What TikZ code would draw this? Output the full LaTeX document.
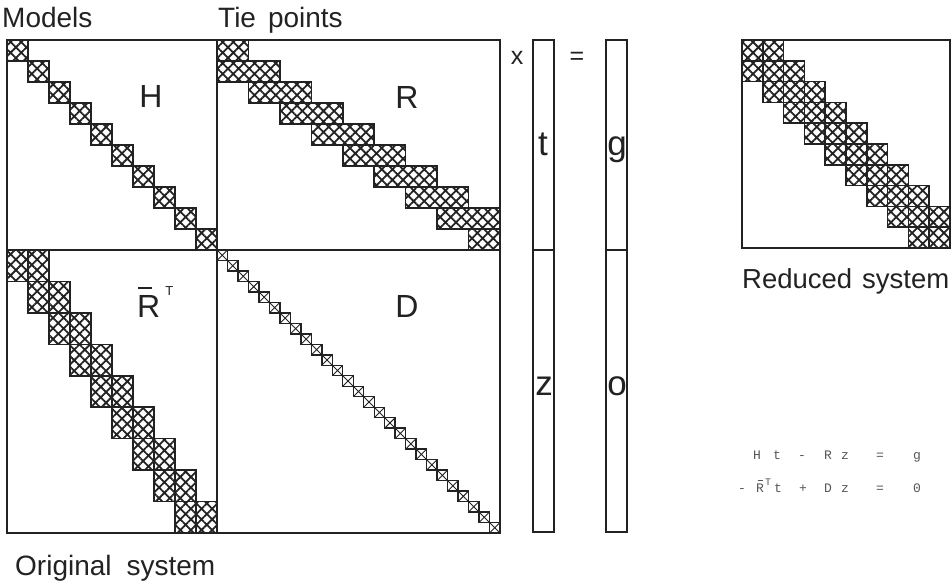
\documentclass[tikz,border=0pt]{standalone}
\usepackage{fontspec}
\setmainfont{Liberation Sans}
\newfontfamily\eqfont{Liberation Mono}
\usetikzlibrary{patterns.meta}
\definecolor{ink}{HTML}{222222}
\definecolor{eqgray}{HTML}{555555}
\newcommand{\barR}[3]{\makebox[0pt][l]{\hspace{#3}\raisebox{#1}{\rule{#2}{0.06em}}}R}
\begin{document}
\begin{tikzpicture}[x=1pt,y=-1pt,line join=miter,
  frame/.style={draw=ink,line width=1.3pt},
  hatchblk/.style={draw=ink,line width=1.5pt,pattern={Hatch[angle=45,distance=7.5pt,line width=1.8pt]},pattern color=ink},
  dblk/.style={draw=ink,line width=1.4pt},
  dcross/.style={draw=ink,line width=0.9pt},
  caption/.style={font=\fontsize{28}{30}\selectfont,text=ink,inner sep=0pt,anchor=base west},
  biglbl/.style={font=\fontsize{32}{34}\selectfont,text=ink,inner sep=0pt,anchor=base},
  veclbl/.style={font=\fontsize{35}{37}\selectfont,text=ink,inner sep=0pt,anchor=base},
  oplbl/.style={font=\fontsize{25}{27}\selectfont,text=ink,inner sep=0pt},
  eqlbl/.style={font=\eqfont\fontsize{13}{14}\selectfont,text=eqgray,inner sep=0pt,anchor=base}]
\useasboundingbox (0,0) rectangle (951,583);

% ---- H blocks
\foreach \i in {0,...,9}
  \draw[hatchblk] ({7+21*\i},{40+21*\i}) rectangle ++(21,21);
% ---- R blocks
\foreach \i in {0,...,9}{
  \pgfmathsetmacro\ca{max(0,\i-1)}
  \pgfmathsetmacro\cb{min(8,\i)+1}
  \draw[hatchblk] ({217+31.444*\ca},{40+21*\i}) rectangle ({217+31.444*\cb},{40+21*(\i+1)});
}
% ---- R-bar-T blocks
\foreach \j in {0,...,8}
  \foreach \c in {0,1}
    \draw[hatchblk] ({7+21*(\j+\c)},{250+31.444*\j}) rectangle ++(21,31.444);
% ---- D blocks
\foreach \k in {0,...,26}{
  \draw[dblk] ({217+10.481*\k},{250+10.481*\k}) rectangle ++(10.481,10.481);
  \draw[dcross] ({217+10.481*\k},{250+10.481*\k}) -- ++(10.481,10.481)
                ({217+10.481*(\k+1)},{250+10.481*\k}) -- ++(-10.481,10.481);
}
% ---- frame of original system
\draw[frame] (7,40) rectangle (500,533);
\draw[frame] (217,40) -- (217,533);
\draw[frame] (7,250) -- (500,250);

% ---- vectors
\draw[frame] (533,40) rectangle (554,532);
\draw[frame] (533,250) -- (554,250);
\draw[frame] (606,40) rectangle (627,532);
\draw[frame] (606,250) -- (627,250);

% ---- reduced system
\foreach \i in {0,...,9}
  \foreach \c in {-1,0,1}{
    \pgfmathtruncatemacro\cc{\i+\c}
    \ifnum\cc>-1 \ifnum\cc<10
      \draw[hatchblk] ({742+20.8*\cc},{40+20.8*\i}) rectangle ++(20.8,20.8);
    \fi\fi
  }
\draw[frame] (742,40) rectangle (950,248);

% ---- labels
\node[caption] (models) at (2,28) {Models};
\node[caption] (tie) at (218,28) {Tie\hspace{12pt}points};
\node[caption] (orig) at (15,575) {Original\hspace{15pt}system};
\node[caption,font=\fontsize{27.5}{29}\selectfont] (red) at (742,288) {Reduced\hspace{10pt}system};

\node[biglbl] (H) at (151,108) {H};
\node[biglbl] (R) at (407,109) {R};
\node[biglbl,anchor=base west] (RT) at (137,317) {\barR{28pt}{14pt}{1pt}\hspace{5pt}\raisebox{22pt}{\fontsize{13}{13}\selectfont T}};
\node[biglbl] (D) at (407,317) {D};

\node[oplbl,anchor=base] (times) at (517,65) {x};
\node[oplbl] (eq) at (577,58) {=};
\node[veclbl] (t) at (543,156) {t};
\node[veclbl] (g) at (617,156) {g};
\node[veclbl] (z) at (544,395) {z};
\node[veclbl] (o) at (617,395) {o};

% ---- equations
\foreach \x/\s [count=\n] in {757/H,777/t,802/-,828/R,845/z,880/=,917/g}
  \node[eqlbl] (ea\n) at (\x,459) {\s};
\foreach \x/\s [count=\n] in {742/-,778/t,803/+,828/D,845/z,880/=,917/0}
  \node[eqlbl] (eb\n) at (\x,492) {\s};
\node[eqlbl,anchor=base west] (ebR) at (756,492) {\barR{11pt}{5pt}{1.5pt}\hspace{1pt}\raisebox{7pt}{\fontsize{10}{10}\selectfont T}};
\end{tikzpicture}
\end{document}
